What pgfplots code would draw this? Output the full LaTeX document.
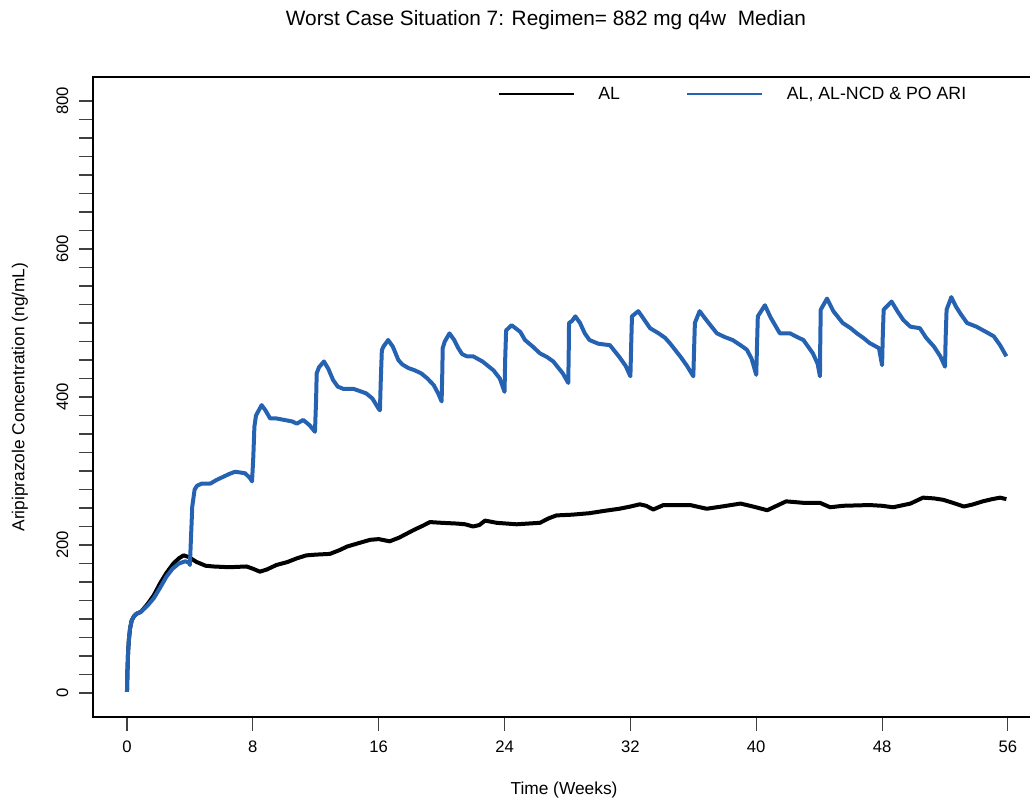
\documentclass[border=0pt]{standalone}
\usepackage{pgfplots}
\pgfplotsset{compat=1.18}
\usepackage{fontspec}
\setmainfont{Liberation Sans}
\definecolor{ariblue}{RGB}{38,98,178}

\begin{document}
\begin{tikzpicture}
\begin{axis}[
  scale only axis,
  width=706.5pt, height=480pt,
  xmin=-2.16, xmax=57.72,
  ymin=-32.4, ymax=832.4,
  xtick={0,8,16,24,32,40,48,56},
  ytick={0,200,400,600,800},
  minor ytick={25,50,...,775},
  tick pos=left,
  tick align=outside,
  major tick length=10.5pt,
  minor tick length=10.5pt,
  every tick/.style={line width=0.8pt, black!75},
  axis line style={line width=1.7pt, black},
  /pgf/number format/assume math mode=true,
  tick label style={font=\fontsize{12.5}{14}\selectfont},
  yticklabel style={rotate=90, anchor=south, yshift=4.5pt},
  xticklabel style={yshift=-4pt},
  xlabel={Time (Weeks)},
  ylabel={Aripiprazole Concentration (ng/mL)},
  label style={font=\fontsize{13}{15}\selectfont},
  xlabel style={at={(axis description cs:0.5,0)}, anchor=center, yshift=-54.75pt},
  ylabel style={at={(axis description cs:0,0.5)}, anchor=center, yshift=54.75pt},
  legend columns=2,
  legend style={draw=none, fill=none, at={(axis description cs:0.4299,0.9734)}, anchor=west,
    font=\fontsize{13.3}{15}\selectfont, inner sep=0pt, nodes={inner sep=0pt},
    /tikz/every odd column/.append style={column sep=18pt},
    /tikz/every even column/.append style={column sep=50pt}},
  legend cell align=left,
  legend image code/.code={\draw[#1, line width=1.1pt] (0pt,0pt) -- (56pt,0pt);},
]
\addplot[black, line width=3pt, line join=round] coordinates {
(0,2) (0.03,30) (0.07,55) (0.12,72) (0.2,88) (0.3,98) (0.45,104) (0.6,107) (0.9,110)
(1.3,120) (1.7,132) (2.1,148) (2.5,162) (2.95,175) (3.3,182) (3.6,186) (3.9,184)
(4.43,177) (5.0,172) (5.5,171) (6.5,170) (7.6,171) (8.0,168) (8.45,164) (8.9,167)
(9.5,173) (10.2,177) (10.8,182) (11.4,186) (12.0,187) (12.9,188) (13.5,193) (14.0,198)
(14.8,203) (15.45,207) (16.0,208) (16.7,205) (17.3,210) (18.2,220) (18.8,226) (19.26,231)
(20.0,230) (20.96,229) (21.5,228) (22.0,225) (22.4,227) (22.76,233) (23.5,230) (24.77,228)
(25.5,229) (26.25,230) (26.8,236) (27.3,240) (28.3,241) (29.4,243) (30.3,246) (31.3,249)
(32.0,252) (32.6,255) (33.0,253) (33.46,248) (34.1,254) (35.2,254) (35.8,254) (36.85,249)
(37.8,252) (39.0,256) (39.8,252) (40.7,247) (41.3,253) (41.9,259) (43.0,257) (44.05,257)
(44.7,251) (45.5,253) (47.2,254) (48.0,253) (48.7,251) (49.8,256) (50.6,264) (51.3,263)
(51.9,261) (52.5,257) (53.2,252) (53.8,255) (54.4,259) (55.0,262) (55.5,264) (55.9,262)
};
\addlegendentry{AL}
\addplot[ariblue, line width=3pt, line join=round] coordinates {
(0,2) (0.03,30) (0.07,55) (0.12,72) (0.2,88) (0.3,98) (0.45,104) (0.6,107) (0.9,110)
(1.3,118) (1.7,128) (2.1,142) (2.5,157) (2.9,168) (3.3,175) (3.7,178) (3.95,176) (4.0,173)
(4.05,200) (4.15,252) (4.3,275) (4.45,280) (4.75,283) (5.3,283) (5.7,288) (6.1,292)
(6.5,296) (6.87,299) (7.2,298) (7.5,297) (7.8,291) (7.95,286)
(8.03,319) (8.1,360) (8.2,375) (8.56,389) (8.8,382) (9.1,371) (9.5,371) (10.0,369)
(10.5,367) (10.8,364) (11.2,369) (11.6,362) (11.95,353)
(12.02,395) (12.06,432) (12.2,440) (12.52,448) (12.8,438) (13.1,423) (13.4,414)
(13.75,411) (14.4,411) (14.8,408) (15.2,405) (15.6,398) (16.0,384) (16.08,382)
(16.13,420) (16.2,463) (16.3,468) (16.6,477) (16.9,468) (17.25,450) (17.5,444)
(17.9,439) (18.3,436) (18.7,432) (19.1,425) (19.5,416) (19.8,404) (20.0,394)
(20.04,430) (20.07,466) (20.2,475) (20.5,486) (20.8,477) (21.06,466) (21.3,458)
(21.6,455) (22.0,455) (22.6,448) (23.3,436) (23.7,425) (24.0,407)
(24.04,450) (24.1,490) (24.45,497) (25.0,488) (25.3,477) (25.8,468) (26.25,459)
(26.7,454) (27.1,448) (27.4,440) (27.7,432) (28.05,419)
(28.08,460) (28.1,500) (28.3,503) (28.5,509) (28.8,500) (29.1,486) (29.4,477)
(29.96,472) (30.7,470) (31.0,462) (31.3,454) (31.7,442) (32.0,428)
(32.05,470) (32.1,509) (32.5,516) (32.8,507) (33.25,493) (33.8,486) (34.2,480)
(34.5,473) (35.2,454) (35.6,442) (36.0,428)
(36.05,465) (36.1,500) (36.4,516) (36.9,502) (37.5,486) (38.0,481) (38.5,477)
(39.0,470) (39.4,464) (39.7,452) (40.0,430)
(40.05,470) (40.1,509) (40.55,524) (40.9,508) (41.5,486) (42.15,486) (42.6,481)
(43.0,477) (43.3,468) (43.6,459) (43.9,445) (44.05,428)
(44.07,475) (44.1,518) (44.5,533) (44.9,516) (45.5,500) (46.0,493) (46.4,486)
(46.8,480) (47.2,473) (47.8,466) (48.0,443)
(48.04,480) (48.1,518) (48.6,529) (49.0,515) (49.35,504) (49.8,495) (50.4,493)
(50.8,480) (51.3,468) (51.7,455) (52.0,441)
(52.04,480) (52.1,518) (52.4,535) (52.7,522) (53.0,512) (53.4,500) (54.0,495)
(54.6,488) (55.1,482) (55.5,470) (55.9,455)
};
\addlegendentry{AL, AL-NCD \& PO ARI}
\end{axis}
\node[font=\fontsize{15.6}{18}\selectfont] at (339.75pt,522.75pt) {Worst Case Situation 7: Regimen= 882 mg q4w\ \ Median};
\pgfresetboundingbox
\useasboundingbox (-69.75pt,-62.25pt) rectangle (702.75pt,537.75pt);
\end{tikzpicture}
\end{document}
